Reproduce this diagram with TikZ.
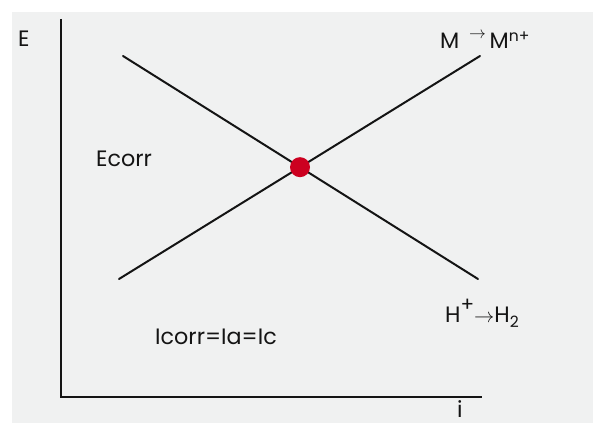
\documentclass[tikz,border=0pt]{standalone}
\usepackage{fontspec}
\setmainfont{Poppins}
\usepackage{tkz-euclide}
\definecolor{BackClr}{RGB}{240,241,241}
\definecolor{DotClr}{RGB}{204,0,32}
\definecolor{InkClr}{RGB}{20,20,20}

\begin{document}
\begin{tikzpicture}[x=0.03cm,y=0.03cm,font=\fontsize{19}{22}\selectfont,
  lbl/.style={inner sep=0pt,anchor=base west,text=InkClr}]
\useasboundingbox (0,0) rectangle (593,423);
\fill[BackClr] (12,0) rectangle (593,411);

\tkzSetUpLine[line width=1.7pt,color=InkClr]

\tkzDefPoints{61/404/Top,61/26/O,482/26/Right}
\tkzDefPoints{123/367/A,478/144/B,119/144/C,480/367/D}
\coordinate (X) at (intersection of A--B and C--D);

\draw[line width=2.5pt,color=InkClr] (Top) -- (O) -- (Right);
\tkzDrawSegments(A,B C,D)
\fill[DotClr] (X) circle (10);

\node[lbl] (Elbl) at (18,376) {E};
\node[lbl] (ilbl) at (457,5) {i};
\node[lbl] (Ecorr) at (96,256) {Ecorr};
\node[lbl] (Icorr) at (155,78) {Icorr=Ia=Ic};
\node[lbl] (anodic) at (440,374) {M\, \raisebox{0.45em}{\fontsize{15}{15}\selectfont$\rightarrow$}\,M\textsuperscript{n+}};
\node[lbl] (cathodic) at (445,100) {H\raisebox{0.5em}{\fontsize{17}{17}\selectfont+}$\rightarrow$H\textsubscript{2}};

\end{tikzpicture}
\end{document}
